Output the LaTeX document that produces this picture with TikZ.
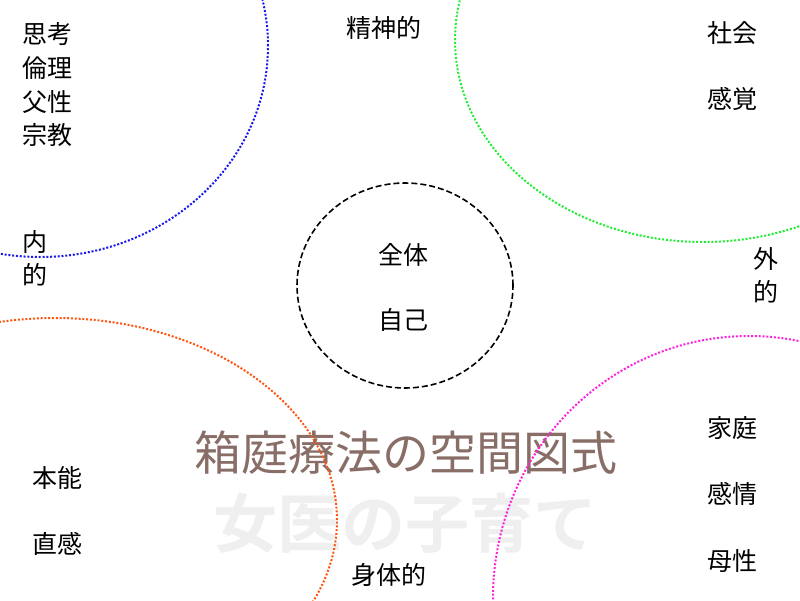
\documentclass[tikz,border=0pt]{standalone}
\usepackage{fontspec}
\setmainfont{Noto Sans CJK JP}
\newfontfamily\cjkbold{Noto Sans CJK JP}[BoldFont={Noto Sans CJK JP Bold}]
\definecolor{titlebrown}{HTML}{896D67}
\definecolor{wmgray}{HTML}{EFEFEF}
\definecolor{cblue}{HTML}{1A1AF0}
\definecolor{cgreen}{HTML}{22EE33}
\definecolor{corange}{HTML}{FF5511}
\definecolor{cmagenta}{HTML}{FF22DD}
\tikzset{
  lbl/.style={inner sep=0pt, font=\fontsize{25}{30}\selectfont, text=black},
  ttl/.style={inner sep=0pt, font=\fontsize{47}{56}\selectfont, text=titlebrown},
  wm/.style={inner sep=0pt, font=\cjkbold\bfseries\fontsize{64}{72}\selectfont, text=wmgray},
  dotline/.style={line width=2pt, dash pattern=on 2pt off 1.8pt},
  dashline/.style={line width=1.6pt, dash pattern=on 6pt off 3pt}
}
\begin{document}
\begin{tikzpicture}[x=1pt,y=-1pt]
\useasboundingbox (0,0) rectangle (800,600);
\fill[white] (0,0) rectangle (800,600);
% watermark and title
\node[wm] (wmark) at (405,523) {女医の子育て};
\node[ttl] (title) at (406,453) {箱庭療法の空間図式};
% circles
\begin{scope}
\clip (0,0) rectangle (800,600);
\draw[dotline, cblue] (40,46) ellipse [x radius=228pt, y radius=211pt];
\draw[dotline, cgreen] (703,40) ellipse [x radius=248pt, y radius=202pt];
\draw[dotline, corange] (55,520) ellipse [x radius=282pt, y radius=202pt];
\draw[dotline, cmagenta] (749,598) ellipse [x radius=256pt, y radius=262pt];
\end{scope}
\draw[dashline, black] (405,285.5) ellipse [x radius=108pt, y radius=102.5pt];
% labels
\node[lbl] (seishin) at (384,28) {精神的};
\node[lbl, anchor=west] (shikou) at (22,34) {思考};
\node[lbl, anchor=west] (rinri) at (22,68) {倫理};
\node[lbl, anchor=west] (fusei) at (22,102) {父性};
\node[lbl, anchor=west] (shuukyou) at (22,135) {宗教};
\node[lbl] (uchi) at (35,242) {内};
\node[lbl] (uchiteki) at (35,275) {的};
\node[lbl] (shakai) at (732,33) {社会};
\node[lbl] (kankaku) at (732,99) {感覚};
\node[lbl] (soto) at (766,259) {外};
\node[lbl] (sototeki) at (766,292) {的};
\node[lbl] (zentai) at (403,255) {全体};
\node[lbl] (jiko) at (403,320) {自己};
\node[lbl] (honnou) at (57,478) {本能};
\node[lbl] (chokkan) at (57,544) {直感};
\node[lbl] (shintai) at (389,575) {身体的};
\node[lbl] (katei) at (732,428) {家庭};
\node[lbl] (kanjou) at (732,494) {感情};
\node[lbl] (bosei) at (732,561) {母性};
\end{tikzpicture}
\end{document}
